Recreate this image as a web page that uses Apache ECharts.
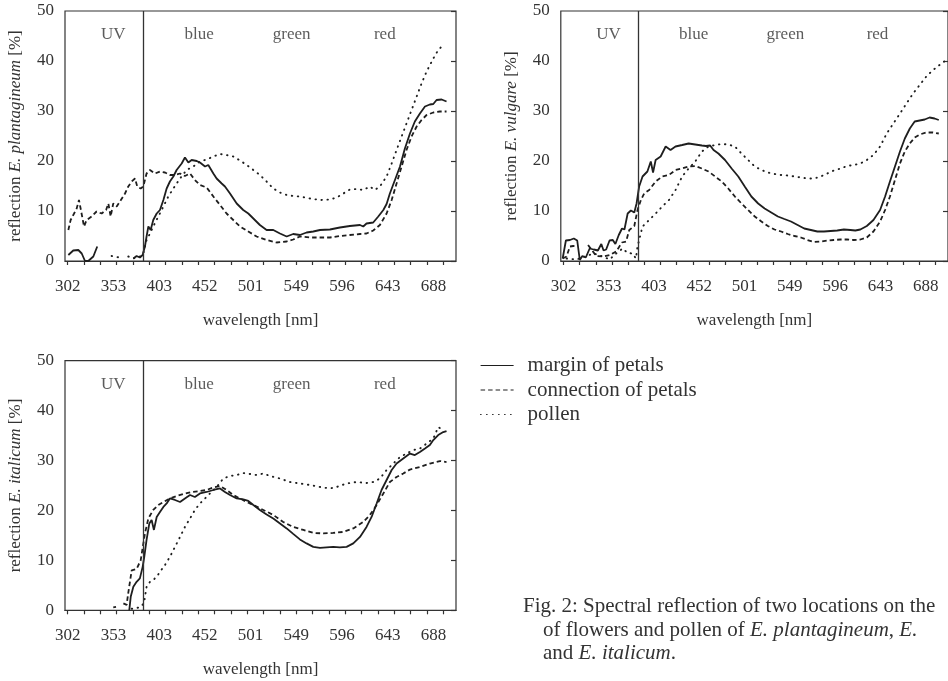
<!DOCTYPE html>
<html>
<head>
<meta charset="utf-8">
<script src="https://cdn.jsdelivr.net/npm/echarts@6/dist/echarts.min.js"></script>
<style>html,body{margin:0;padding:0;background:#fff}#c{width:948px;height:681px}</style>
</head>
<body>
<div id="c"></div>
<script>
// x values are positions along the (non-linear) spectrometer axis, in tick units
const tickLabels = [302, 353, 403, 452, 501, 549, 596, 643, 688];
const labelStep = 2.8;
const tickCount = 24;
const regionNames = ['UV', 'blue', 'green', 'red'];
const regionX = [2.79, 8.05, 13.72, 19.42];
const regionY = 45.3;
const uvBoundary = 4.63;
const seriesNames = ['margin of petals', 'connection of petals', 'pollen'];
const yNames = ['plantagineum', 'vulgare', 'italicum'];

const plantMargin = [[0.04,1.2],[0.34,2.1],[0.65,2.2],[0.86,1.5],[1.06,0],[1.26,0],[1.57,0.9],[1.81,2.9],[1.9,'-'],
[4.02,0.5],[4.22,1.0],[4.42,0.7],[4.59,1.2],[4.73,2.9],[4.83,4.9],[4.94,6.9],[5.08,6.2],[5.24,8.2],[5.45,9.5],[5.65,10.2],[5.86,12.2],[6.06,14.5],[6.26,15.9],[6.47,16.9],[6.67,18.2],[6.98,19.5],[7.18,20.7],[7.39,19.7],[7.59,20.2],[7.90,20.0],[8.10,19.7],[8.41,18.9],[8.61,19.2],[8.92,17.5],[9.12,16.5],[9.43,15.5],[9.63,14.9],[9.94,13.5],[10.35,11.5],[10.75,10.2],[11.06,9.5],[11.37,8.5],[11.77,7.2],[12.18,6.2],[12.59,6.2],[13.00,5.5],[13.41,4.9],[13.81,5.4],[14.22,5.2],[14.63,5.7],[15.04,5.9],[15.45,6.2],[16.06,6.3],[16.67,6.7],[17.28,7.0],[17.90,7.2],[18.10,6.9],[18.30,7.5],[18.71,7.7],[19.02,8.9],[19.33,10.2],[19.53,11.4],[19.73,13.5],[20.04,16.2],[20.35,18.9],[20.65,22.5],[20.96,25.5],[21.26,27.9],[21.57,29.5],[21.88,30.9],[22.18,31.3],[22.39,31.4],[22.59,32.2],[22.90,32.3],[23.20,31.9]];
const plantConn = [[0.04,6.2],[0.18,8.2],[0.39,9.5],[0.55,10.5],[0.69,12.2],[0.81,10.2],[1.00,6.9],[1.16,8.2],[1.47,8.9],[1.77,9.9],[2.08,9.5],[2.35,10.2],[2.49,11.5],[2.63,8.9],[2.79,11.5],[3.00,10.9],[3.20,11.9],[3.51,13.5],[3.71,14.9],[3.92,15.9],[4.12,16.5],[4.26,14.9],[4.47,14.5],[4.63,14.9],[4.83,17.5],[5.04,18.2],[5.34,17.5],[5.65,17.9],[5.96,17.7],[6.26,17.2],[6.57,17.2],[6.88,17.5],[7.18,17.0],[7.49,17.5],[7.79,16.2],[8.10,15.2],[8.51,14.7],[8.92,12.9],[9.33,11.2],[9.73,9.5],[10.14,8.2],[10.55,6.9],[11.06,5.9],[11.57,4.9],[12.18,4.2],[12.79,3.7],[13.41,3.9],[13.81,4.3],[14.22,4.9],[14.83,4.7],[15.45,4.7],[16.06,4.7],[16.67,5.0],[17.28,5.2],[17.90,5.4],[18.30,5.5],[18.71,6.1],[19.12,7.2],[19.53,9.5],[19.84,12.2],[20.14,15.5],[20.45,18.9],[20.75,22.2],[21.06,24.9],[21.37,26.9],[21.67,28.2],[21.98,29.2],[22.39,29.7],[22.79,29.9],[23.20,29.9]];
const plantPollen = [[2.69,1.0],[3.16,0.7],[3.4,'-'],[3.71,0.9],[4.02,0.5],[4.42,0.9],[4.63,1.5],[4.83,4.2],[5.04,5.5],[5.24,6.9],[5.55,8.9],[5.86,10.9],[6.16,12.9],[6.47,14.5],[6.88,16.5],[7.28,18.2],[7.69,18.9],[8.10,19.9],[8.51,20.3],[8.92,20.9],[9.33,21.4],[9.73,21.2],[10.14,20.9],[10.55,20.1],[10.96,19.2],[11.37,18.2],[11.77,17.2],[12.18,15.9],[12.59,14.5],[13.00,13.7],[13.41,13.2],[13.81,13.0],[14.22,12.9],[14.83,12.5],[15.45,12.2],[16.06,12.3],[16.47,12.7],[16.88,13.5],[17.28,14.3],[17.69,14.4],[18.10,14.2],[18.51,14.9],[18.81,14.2],[19.12,14.9],[19.53,16.9],[19.84,19.5],[20.14,22.2],[20.45,24.9],[20.75,27.5],[21.06,30.2],[21.37,32.9],[21.67,35.5],[21.98,37.9],[22.39,40.5],[22.69,42.2],[23.00,43.2]];

const vulgMargin = [[-0.05,0.5],[0.15,4.1],[0.40,4.2],[0.64,4.5],[0.85,4.1],[1.01,0.2],[1.17,1.0],[1.38,0.7],[1.62,2.5],[1.87,2.3],[2.13,2.1],[2.34,3.4],[2.48,2.1],[2.64,2.3],[2.85,4.1],[3.05,4.2],[3.21,3.4],[3.42,5.2],[3.62,6.5],[3.77,6.3],[3.97,9.5],[4.17,10.1],[4.38,9.7],[4.52,11.5],[4.68,14.9],[4.89,16.9],[5.19,17.9],[5.40,19.9],[5.54,17.7],[5.70,20.2],[6.01,20.9],[6.32,22.9],[6.62,22.2],[6.93,22.9],[7.34,23.2],[7.74,23.5],[8.15,23.3],[8.56,23.1],[8.81,23.0],[9.07,23.1],[9.28,22.2],[9.58,21.5],[9.99,20.2],[10.40,18.5],[10.81,16.9],[11.21,14.9],[11.62,12.9],[12.04,11.5],[12.44,10.5],[12.85,9.7],[13.26,8.9],[13.66,8.4],[14.07,7.9],[14.48,7.2],[14.89,6.5],[15.30,6.2],[15.70,5.9],[16.11,5.9],[16.52,6.0],[16.93,6.1],[17.34,6.3],[17.74,6.2],[18.05,6.1],[18.36,6.3],[18.76,7.0],[19.17,8.2],[19.58,10.2],[19.89,12.9],[20.19,15.9],[20.50,18.9],[20.81,21.9],[21.11,24.5],[21.42,26.5],[21.72,27.9],[22.03,28.1],[22.34,28.3],[22.64,28.7],[22.95,28.5],[23.21,28.2]];
const vulgConn = [[-0.05,0.5],[0.19,0.9],[0.40,2.9],[0.60,3.0],[0.81,2.9],[1.1,'-'],[1.52,3.2],[2.03,1.0],[2.44,0.9],[2.85,1.2],[3.26,1.9],[3.62,3.7],[3.87,3.9],[4.07,6.2],[4.38,7.0],[4.58,10.2],[4.79,12.2],[4.99,13.5],[5.30,14.2],[5.70,15.9],[6.11,16.9],[6.52,17.2],[6.93,18.2],[7.34,18.5],[7.74,18.9],[8.15,19.0],[8.56,18.5],[8.97,17.9],[9.38,16.9],[9.79,15.9],[10.19,14.5],[10.60,12.9],[11.01,11.5],[11.42,10.2],[11.83,8.9],[12.24,7.9],[12.64,7.0],[13.05,6.3],[13.46,5.9],[13.87,5.4],[14.28,5.0],[14.68,4.7],[15.09,4.2],[15.50,3.8],[15.91,3.9],[16.32,4.1],[16.72,4.2],[17.13,4.3],[17.54,4.3],[17.95,4.2],[18.36,4.3],[18.76,4.7],[19.17,5.9],[19.58,7.9],[19.89,10.2],[20.19,12.9],[20.50,16.2],[20.81,19.5],[21.11,21.9],[21.42,23.5],[21.72,24.7],[22.03,25.3],[22.44,25.7],[22.85,25.7],[23.21,25.5]];
const vulgPollen = [[0.19,0.5],[0.81,0.3],[1.32,0.9],[1.87,1.5],[2.44,0.9],[2.85,0.3],[3.26,1.5],[3.66,2.5],[3.97,1.6],[4.27,1.5],[4.48,0.5],[4.58,2.9],[4.89,6.9],[5.30,8.2],[5.70,9.5],[6.11,10.9],[6.52,12.2],[6.93,14.2],[7.34,16.9],[7.74,18.5],[8.15,19.9],[8.56,21.9],[8.97,22.9],[9.38,23.2],[9.79,23.4],[10.19,23.3],[10.60,22.9],[11.01,21.5],[11.42,20.2],[11.83,18.9],[12.24,18.2],[12.64,17.7],[13.05,17.4],[13.46,17.2],[13.87,17.1],[14.28,16.9],[14.68,16.7],[15.09,16.5],[15.50,16.5],[15.91,16.9],[16.32,17.5],[16.72,18.1],[17.13,18.5],[17.54,19.0],[17.95,19.2],[18.36,19.5],[18.76,20.2],[19.17,21.2],[19.58,22.9],[19.99,25.5],[20.40,27.5],[20.81,29.5],[21.21,31.5],[21.62,33.5],[22.03,35.2],[22.44,36.9],[22.85,38.2],[23.26,39.2],[23.67,40.2]];

const italMargin = [[3.77,0],[3.86,2.7],[4.02,4.7],[4.22,5.7],[4.42,6.4],[4.59,8.7],[4.69,10.7],[4.83,14.1],[5.00,17.4],[5.14,18.1],[5.28,16.1],[5.45,18.7],[5.65,19.7],[5.86,20.7],[6.06,21.4],[6.26,22.4],[6.57,22.1],[6.88,21.7],[7.18,22.4],[7.49,23.1],[7.79,22.7],[8.10,23.4],[8.51,23.7],[8.92,24.1],[9.33,24.4],[9.63,23.7],[9.94,23.1],[10.35,22.4],[10.75,22.2],[11.06,21.9],[11.37,21.1],[11.77,20.1],[12.18,19.2],[12.59,18.4],[13.00,17.4],[13.41,16.4],[13.81,15.3],[14.22,14.2],[14.63,13.4],[15.04,12.7],[15.45,12.5],[15.85,12.6],[16.26,12.7],[16.67,12.6],[17.08,12.7],[17.49,13.4],[17.90,14.7],[18.30,16.7],[18.61,18.7],[18.92,21.4],[19.22,24.1],[19.53,26.1],[19.84,28.1],[20.14,29.4],[20.55,30.4],[20.96,31.4],[21.26,31.1],[21.57,31.7],[21.88,32.4],[22.18,33.1],[22.39,34.1],[22.69,35.1],[23.00,35.7],[23.20,35.9]];
const italConn = [[2.79,0.6],[2.96,0.7],[3.2,'-'],[3.41,1.4],[3.61,1.1],[3.71,3.5],[3.92,8.0],[4.22,8.3],[4.47,10.0],[4.73,15.4],[4.94,18.4],[5.24,20.1],[5.55,21.1],[5.86,21.7],[6.26,22.4],[6.67,22.9],[7.08,23.3],[7.59,23.7],[8.10,23.9],[8.51,24.1],[8.92,24.6],[9.33,24.9],[9.73,24.1],[10.14,23.1],[10.55,22.4],[10.96,21.7],[11.37,21.1],[11.98,20.1],[12.59,19.1],[13.20,17.7],[13.81,16.7],[14.43,16.1],[15.04,15.5],[15.65,15.4],[16.26,15.5],[16.88,15.7],[17.49,16.4],[18.10,17.7],[18.51,19.1],[18.92,21.1],[19.33,23.4],[19.73,25.7],[20.14,26.7],[20.55,27.4],[20.96,28.2],[21.57,28.7],[22.18,29.4],[22.79,29.9],[23.20,29.7]];
const italPollen = [[3.92,0.3],[4.42,0.6],[4.67,1.4],[4.83,4.7],[5.04,5.7],[5.24,6.1],[5.45,6.7],[5.65,7.7],[5.96,9.1],[6.26,10.7],[6.57,12.7],[6.88,14.7],[7.18,16.7],[7.49,18.4],[7.79,20.1],[8.10,21.4],[8.41,22.4],[8.71,23.4],[9.12,24.7],[9.53,26.4],[9.94,26.9],[10.35,27.1],[10.75,27.5],[11.16,27.3],[11.57,27.1],[11.98,27.4],[12.39,26.9],[13.00,26.4],[13.61,25.7],[14.22,25.4],[14.83,25.1],[15.45,24.7],[16.06,24.4],[16.47,24.7],[17.08,25.4],[17.69,25.7],[18.30,25.5],[18.71,25.7],[19.12,26.4],[19.53,28.1],[19.94,29.4],[20.35,30.7],[20.75,31.4],[21.16,32.1],[21.57,32.4],[21.98,33.4],[22.39,34.4],[22.69,36.7],[23.00,36.1]];

const panels = [
  [plantMargin, plantConn, plantPollen],
  [vulgMargin, vulgConn, vulgPollen],
  [italMargin, italConn, italPollen]
];

const FONT = '"Liberation Serif", "DejaVu Serif", serif';
const TXT = '#333';
const LINE = '#1e1e1e';
const grids = [
  {left: 65, top: 11, width: 391, height: 250},
  {left: 560.8, top: 11, width: 391, height: 250},
  {left: 65, top: 360.7, width: 391, height: 249.6}
];
const ticks = [];
for (let i = 0; i < tickCount; i++) ticks.push(i);
const labelPos = tickLabels.map((_, k) => +(k * labelStep).toFixed(2));
const styles = [
  {type: 'solid', width: 1.8},
  {type: [4.5, 3], width: 1.8},
  {type: [0.5, 5.5], width: 1.9, cap: 'round'}
];

const xAxis = [], yAxis = [], series = [];
grids.forEach((g, i) => {
  xAxis.push({
    type: 'value', gridIndex: i, min: -0.165, max: 23.78,
    axisLine: {show: true, onZero: false, lineStyle: {color: '#333', width: 1.2}},
    axisTick: {show: true, customValues: ticks, length: 4, inside: false, lineStyle: {color: '#333', width: 1.2}},
    axisLabel: {customValues: labelPos, formatter: v => String(tickLabels[Math.round(v / labelStep)]),
      fontFamily: FONT, fontSize: 17, color: TXT, margin: 17},
    splitLine: {show: false},
    name: 'wavelength [nm]', nameLocation: 'middle', nameGap: 51,
    nameTextStyle: {fontFamily: FONT, fontSize: 17, color: TXT}
  });
  yAxis.push({
    type: 'value', gridIndex: i, min: 0, max: 50, interval: 10,
    axisLine: {show: false}, axisTick: {show: false},
    axisLabel: {fontFamily: FONT, fontSize: 17, color: TXT, margin: 11},
    splitLine: {show: false},
    name: '{n|reflection }{i|E. ' + yNames[i] + '}{n| [%]}',
    nameLocation: 'middle', nameGap: 41, nameRotate: 90,
    nameTextStyle: {rich: {
      n: {fontFamily: FONT, fontSize: 17, color: TXT},
      i: {fontFamily: FONT, fontSize: 17, color: TXT, fontStyle: 'italic'}
    }}
  });
  yAxis.push({
    type: 'value', gridIndex: i, min: 0, max: 50, interval: 10, position: 'right',
    axisLine: {show: false},
    axisTick: {show: true, inside: true, length: 5, lineStyle: {color: '#333', width: 1.2}},
    axisLabel: {show: false}, splitLine: {show: false}
  });
  panels[i].forEach((data, s) => {
    const ser = {
      type: 'line', name: seriesNames[s], xAxisIndex: i, yAxisIndex: 2 * i,
      data: data, symbol: 'none', connectNulls: false, silent: true,
      lineStyle: {color: LINE, width: styles[s].width, type: styles[s].type, cap: styles[s].cap || 'butt'},
      itemStyle: {color: LINE}
    };
    if (s === 0) {
      ser.markLine = {
        symbol: 'none', silent: true, label: {show: false},
        lineStyle: {color: '#333', type: 'solid', width: 1.3},
        data: [{xAxis: uvBoundary}]
      };
    }
    series.push(ser);
  });
  series.push({
    type: 'scatter', xAxisIndex: i, yAxisIndex: 2 * i, symbolSize: 0, silent: true,
    data: regionX.map(x => [x, regionY]),
    label: {show: true, position: 'inside', formatter: p => regionNames[p.dataIndex],
      fontFamily: FONT, fontSize: 17, color: TXT}
  });
});

const cap = {fontFamily: FONT, fontSize: 21, color: TXT, fontWeight: 'normal'};
const capI = Object.assign({}, cap, {fontStyle: 'italic'});

const option = {
  backgroundColor: '#fff',
  animation: false,
  grid: grids.map(g => Object.assign({show: true, borderColor: '#333', borderWidth: 1.2, backgroundColor: 'transparent'}, g)),
  xAxis, yAxis, series,
  legend: {
    data: seriesNames, orient: 'vertical', left: 480, top: 355, padding: 0,
    itemWidth: 33, itemHeight: 10, itemGap: 3.5,
    textStyle: {fontFamily: FONT, fontSize: 21, color: TXT, lineHeight: 21, padding: [0, 0, 0, 9]},
    lineStyle: {width: 1.2},
    itemStyle: {color: 'rgba(0,0,0,0)', borderColor: 'rgba(0,0,0,0)', borderWidth: 0, opacity: 0}
  },
  title: [
    {left: 523, top: 596, padding: 0, text: '{n|Fig. 2: Spectral reflection of two locations on the}',
      textStyle: {rich: {n: cap}}},
    {left: 543, top: 619.5, padding: 0, text: '{n|of flowers and pollen of }{i|E. plantagineum}{n|, }{i|E.}',
      textStyle: {rich: {n: cap, i: capI}}},
    {left: 543, top: 643, padding: 0, text: '{n|and }{i|E. italicum}{n|.}',
      textStyle: {rich: {n: cap, i: capI}}}
  ]
};
const chart = echarts.init(document.getElementById('c'));
chart.setOption(option);
</script>
</body>
</html>
